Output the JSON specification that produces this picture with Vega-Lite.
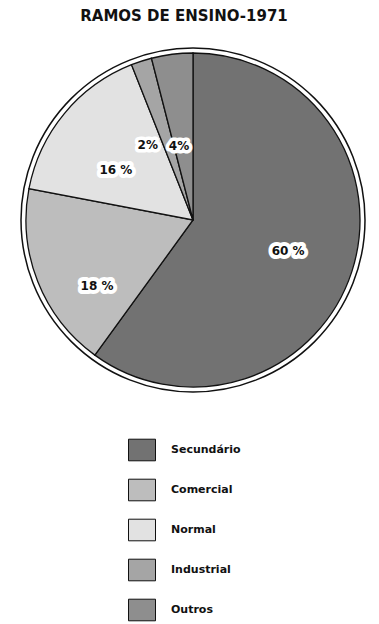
{
  "$schema": "https://vega.github.io/schema/vega-lite/v6.json",
  "autosize": {"type": "none"},
  "width": 372,
  "height": 370,
  "padding": {"left": 7, "top": 35, "right": 0, "bottom": 219},
  "background": "white",
  "title": {"text": "RAMOS DE ENSINO-1971", "font": "DejaVu Sans", "fontSize": 15, "fontWeight": "bold", "color": "#111111", "anchor": "middle", "offset": 11, "dx": -9},
  "data": {"values": [
    {"ramo": "Secundário", "pct": 60, "ordem": 1, "rotulo": "60 %"},
    {"ramo": "Comercial", "pct": 18, "ordem": 2, "rotulo": "18 %"},
    {"ramo": "Normal", "pct": 16, "ordem": 3, "rotulo": "16 %"},
    {"ramo": "Industrial", "pct": 2, "ordem": 4, "rotulo": "2%"},
    {"ramo": "Outros", "pct": 4, "ordem": 5, "rotulo": "4%"}
  ]},
  "encoding": {
    "theta": {"field": "pct", "type": "quantitative", "stack": true},
    "order": {"field": "ordem", "type": "quantitative", "sort": "ascending"}
  },
  "layer": [
    {
      "transform": [{"filter": "datum.ordem == 1"}],
      "mark": {"type": "arc", "theta": 0, "theta2": 6.2832, "radius": 172, "filled": false, "stroke": "#111111", "strokeWidth": 1.5},
      "encoding": {"theta": null, "order": null}
    },
    {
      "mark": {"type": "arc", "radius": 167, "stroke": "#111111", "strokeWidth": 1.3},
      "encoding": {
        "color": {
          "field": "ramo", "type": "nominal",
          "scale": {"domain": ["Secundário", "Comercial", "Normal", "Industrial", "Outros"], "range": ["#727272", "#bdbdbd", "#e2e2e2", "#a5a5a5", "#8e8e8e"]},
          "legend": {
            "title": null, "orient": "none", "legendX": 121, "legendY": 401, "direction": "vertical",
            "symbolType": "M-1,-0.8H1V0.8H-1Z", "symbolSize": 729, "symbolStrokeColor": "#111111", "symbolStrokeWidth": 1, "symbolOpacity": 1,
            "labelFont": "DejaVu Sans", "labelFontSize": 11, "labelFontWeight": "bold", "labelColor": "#111111", "labelOffset": 15,
            "rowPadding": 13, "padding": 0
          }
        }
      }
    },
    {
      "mark": {"type": "text", "radius": 100, "font": "DejaVu Sans", "fontSize": 12, "fontWeight": "bold", "fill": "white", "stroke": "white", "strokeWidth": 8, "strokeJoin": "round"},
      "encoding": {"detail": {"field": "ramo"}, "text": {"condition": {"test": "datum.ordem == 1", "field": "rotulo"}, "value": ""}}
    },
    {
      "mark": {"type": "text", "radius": 100, "font": "DejaVu Sans", "fontSize": 12, "fontWeight": "bold", "fill": "#111111"},
      "encoding": {"detail": {"field": "ramo"}, "text": {"condition": {"test": "datum.ordem == 1", "field": "rotulo"}, "value": ""}}
    },
    {
      "mark": {"type": "text", "radius": 100, "dx": -3, "dy": 29, "font": "DejaVu Sans", "fontSize": 12, "fontWeight": "bold", "fill": "white", "stroke": "white", "strokeWidth": 8, "strokeJoin": "round"},
      "encoding": {"detail": {"field": "ramo"}, "text": {"condition": {"test": "datum.ordem == 2", "field": "rotulo"}, "value": ""}}
    },
    {
      "mark": {"type": "text", "radius": 100, "dx": -3, "dy": 29, "font": "DejaVu Sans", "fontSize": 12, "fontWeight": "bold", "fill": "#111111"},
      "encoding": {"detail": {"field": "ramo"}, "text": {"condition": {"test": "datum.ordem == 2", "field": "rotulo"}, "value": ""}}
    },
    {
      "mark": {"type": "text", "radius": 100, "dy": 14, "font": "DejaVu Sans", "fontSize": 12, "fontWeight": "bold", "fill": "white", "stroke": "white", "strokeWidth": 8, "strokeJoin": "round"},
      "encoding": {"detail": {"field": "ramo"}, "text": {"condition": {"test": "datum.ordem == 3", "field": "rotulo"}, "value": ""}}
    },
    {
      "mark": {"type": "text", "radius": 100, "dy": 14, "font": "DejaVu Sans", "fontSize": 12, "fontWeight": "bold", "fill": "#111111"},
      "encoding": {"detail": {"field": "ramo"}, "text": {"condition": {"test": "datum.ordem == 3", "field": "rotulo"}, "value": ""}}
    },
    {
      "mark": {"type": "text", "radius": 88, "dx": -18, "dy": 9, "font": "DejaVu Sans", "fontSize": 12, "fontWeight": "bold", "fill": "white", "stroke": "white", "strokeWidth": 7, "strokeJoin": "round"},
      "encoding": {"detail": {"field": "ramo"}, "text": {"condition": {"test": "datum.ordem == 4", "field": "rotulo"}, "value": ""}}
    },
    {
      "mark": {"type": "text", "radius": 88, "dx": -18, "dy": 9, "font": "DejaVu Sans", "fontSize": 12, "fontWeight": "bold", "fill": "#111111"},
      "encoding": {"detail": {"field": "ramo"}, "text": {"condition": {"test": "datum.ordem == 4", "field": "rotulo"}, "value": ""}}
    },
    {
      "mark": {"type": "text", "radius": 80, "dx": -4, "dy": 5, "font": "DejaVu Sans", "fontSize": 12, "fontWeight": "bold", "fill": "white", "stroke": "white", "strokeWidth": 7, "strokeJoin": "round"},
      "encoding": {"detail": {"field": "ramo"}, "text": {"condition": {"test": "datum.ordem == 5", "field": "rotulo"}, "value": ""}}
    },
    {
      "mark": {"type": "text", "radius": 80, "dx": -4, "dy": 5, "font": "DejaVu Sans", "fontSize": 12, "fontWeight": "bold", "fill": "#111111"},
      "encoding": {"detail": {"field": "ramo"}, "text": {"condition": {"test": "datum.ordem == 5", "field": "rotulo"}, "value": ""}}
    }
  ]
}
